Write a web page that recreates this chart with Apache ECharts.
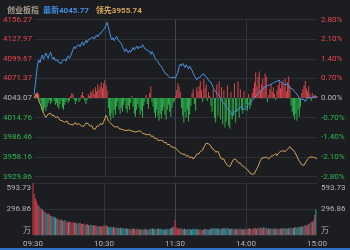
<!DOCTYPE html>
<html lang="zh">
<head>
<meta charset="UTF-8">
<title>创业板指 分时</title>
<script src="https://cdn.jsdelivr.net/npm/echarts@6/dist/echarts.min.js"></script>
<style>
    html, body { margin: 0; padding: 0; background: #1c1d21; }
    #chart { width: 350px; height: 250px; }
</style>
</head>
<body>
<div id="chart"></div>
<script>
// 纵轴刻度文字
var priceTicks = ['3929.86', '3958.16', '3986.46', '4014.76', '4043.07', '4071.37', '4099.67', '4127.97', '4156.27'];
var pctTicks = ['-2.80%', '-2.10%', '-1.40%', '-0.70%', '0.00%', '0.70%', '1.40%', '2.10%', '2.80%'];
var volTicks = ['万', '296.86', '593.73'];
var timeTickIndex = [0, 60, 120, 180, 240];
var timeTickText = ['09:30', '10:30', '11:30', '14:00', '15:00'];

// 最新 (创业板指)
var latest = [
    4048, 4062, 4078, 4092, 4098, 4094, 4101, 4105, 4099, 4103,
    4108, 4104, 4100, 4106, 4109, 4103, 4099, 4102, 4097, 4095,
    4098, 4094, 4096, 4093, 4097, 4095, 4099, 4096, 4101, 4104,
    4100, 4103, 4108, 4113, 4117, 4114, 4118, 4116, 4120, 4117,
    4121, 4124, 4119, 4122, 4126, 4123, 4127, 4125, 4129, 4127,
    4131, 4128, 4130, 4134, 4131, 4135, 4133, 4137, 4140, 4138,
    4144, 4148, 4152, 4145, 4138, 4131, 4127, 4130, 4126, 4129,
    4132, 4128, 4125, 4127, 4122, 4117, 4113, 4110, 4114, 4111,
    4108, 4112, 4109, 4113, 4116, 4112, 4115, 4118, 4114, 4117,
    4119, 4116, 4120, 4117, 4114, 4116, 4112, 4114, 4110, 4106,
    4110, 4107, 4103, 4099, 4101, 4096, 4092, 4094, 4089, 4085,
    4082, 4079, 4081, 4077, 4074, 4076, 4072, 4070, 4073, 4071,
    4072,
    4074, 4080, 4088, 4092, 4089, 4093, 4090, 4087, 4091,
    4088, 4085, 4089, 4086, 4083, 4079, 4075, 4072, 4069, 4072,
    4070, 4073, 4076, 4074, 4078, 4075, 4076, 4072, 4068, 4066,
    4066, 4062, 4058, 4055, 4052, 4054, 4049, 4046, 4043, 4040,
    4037, 4039, 4034, 4031, 4027, 4029, 4025, 4021, 4018, 4022,
    4020, 4024, 4022, 4026, 4029, 4027, 4031, 4028, 4030, 4026,
    4028, 4032, 4035, 4033, 4037, 4040, 4038, 4043, 4046, 4044,
    4049, 4052, 4050, 4054, 4057, 4055, 4059, 4057, 4061, 4059,
    4062, 4060, 4064, 4062, 4066, 4064, 4067, 4065, 4069, 4066,
    4068, 4064, 4066, 4062, 4060, 4063, 4059, 4061, 4057, 4058,
    4055, 4052, 4054, 4049, 4046, 4043, 4045, 4041, 4039, 4041,
    4038, 4040, 4043, 4041, 4044, 4046, 4043, 4045, 4047, 4044,
    4045.77
];

// 领先
var lead = [
    4043, 4046, 4049, 4045, 4039, 4035, 4031, 4025, 4021, 4018,
    4015, 4017, 4020, 4019, 4021, 4018, 4016, 4018, 4015, 4013,
    4016, 4014, 4011, 4013, 4010, 4012, 4008, 4007, 4010, 4006,
    4008, 4005, 4007, 4004, 4006, 4008, 4005, 4003, 4006, 4004,
    4003, 4005, 4002, 4004, 4007, 4005, 4006, 4003, 4001, 4003,
    3999, 4001, 3998, 4002, 4004, 4003, 4006, 4008, 4005, 4009,
    4013, 4018, 4015, 4010, 4012, 4007, 4005, 4003, 4005, 4001,
    4000, 4002, 3999, 4001, 3998, 4000, 3997, 3999, 3996, 3998,
    3997, 3999, 3996, 3998, 3995, 3997, 3994, 3996, 3995, 3997,
    3996, 3994, 3992, 3994, 3991, 3993, 3990, 3989, 3991, 3988,
    3986, 3988, 3985, 3983, 3985, 3982, 3984, 3982, 3980, 3982,
    3979, 3977, 3979, 3976, 3974, 3976, 3973, 3975, 3972, 3970,
    3971,
    3969, 3967, 3965, 3964, 3966, 3962, 3960, 3962, 3959,
    3958, 3960, 3957, 3956, 3958, 3955, 3957, 3959, 3962, 3960,
    3963, 3966, 3964, 3968, 3972, 3975, 3978, 3980, 3977, 3975,
    3974, 3970, 3972, 3968, 3965, 3963, 3966, 3962, 3958, 3955,
    3953, 3955, 3951, 3949, 3946, 3948, 3944, 3947, 3951, 3954,
    3952, 3955, 3953, 3950, 3948, 3949, 3946, 3948, 3944, 3945,
    3941, 3943, 3938, 3935, 3937, 3933, 3931, 3934, 3938, 3941,
    3944, 3949, 3953, 3956, 3954, 3957, 3955, 3958, 3956, 3955,
    3957, 3959, 3957, 3960, 3962, 3963, 3960, 3963, 3965, 3966,
    3964, 3967, 3969, 3966, 3968, 3969, 3971, 3973, 3970, 3972,
    3968, 3965, 3963, 3959, 3955, 3952, 3950, 3947, 3948, 3946,
    3949, 3952, 3955, 3957, 3958, 3960, 3958, 3956, 3957, 3955,
    3955.74
];

// 红绿柱
var power = [
    0, 3, 5, 6, 4, -3, -8, -12, -14, -10,
    -13, -9, -5, -2, -6, -4, 0, -3, -7, -5,
    -9, -11, -6, -3, -10, -12, -7, -4, -2, -5,
    -3, 2, 5, 4, -2, -6, -3, 0, -4, -2,
    3, 6, 2, -3, -6, -2, 4, 2, 7, 5,
    9, 4, 11, 7, 14, 9, 12, 16, 10, 15,
    18, 13, 8, -10, -18, -23, -15, -20, -12, -17,
    -9, -4, -12, -16, -10, -14, -7, -3, -11, -15,
    -8, -12, -5, 2, -9, -16, -19, -12, -6, -10,
    -17, -13, -20, -8, -4, 3, -6, -11, 5, 12,
    -4, -9, -15, -20, -12, -18, -23, -16, -21, -13,
    -9, -17, -22, -12, -7, -14, -19, -10, -5, -3,
    2,
    8, 15, 12, 6, -10, -18, -25, -14, -20,
    -12, -24, -17, -8, 5, 9, -6, -13, 11, 7,
    12, 17, 8, -4, 19, 10, 14, -3, 6, 2,
    -8, -14, 9, -20, -25, 14, -18, 17, -22, 11,
    -27, 8, -30, -24, 13, -28, -31, 6, -22, -18,
    15, -25, -14, 17, -20, 9, -12, -16, 7, -10,
    -6, -13, 4, -11, -8, 5, 10, 16, 26, 12,
    22, 27, 8, 14, 20, 12, 25, 22, -4, 3,
    9, 14, 6, 11, 4, -2, 8, 13, 17, 10,
    15, 18, 12, 20, 7, 16, 22, 13, -8, -14,
    -18, -22, -16, -23, -12, -19, -9, 5, 9, 13,
    17, 10, 7, 12, 4, -3, 5, 2, 3, 1,
    2
];

// 成交量(万)
var volume = [
    594, 470, 420, 390, 350, 330, 310, 300, 290, 275,
    265, 250, 240, 245, 230, 220, 215, 205, 210, 195,
    190, 185, 175, 170, 180, 165, 160, 170, 155, 150,
    148, 155, 145, 140, 150, 138, 142, 135, 130, 140,
    137, 128, 125, 132, 120, 118, 125, 115, 110, 118,
    108, 112, 105, 110, 100, 104, 98, 103, 95, 100,
    110, 105, 115, 98, 92, 88, 95, 85, 90, 82,
    86, 80, 84, 78, 82, 75, 80, 72, 76, 70,
    74, 68, 72, 66, 70, 75, 68, 64, 70, 66,
    62, 68, 64, 60, 66, 70, 63, 58, 65, 72,
    68, 75, 70, 65, 72, 68, 74, 66, 70, 62,
    66, 60, 64, 70, 62, 68, 75, 80, 95, 90,
    170,
    85, 78, 72, 80, 75, 70, 66, 72, 68,
    64, 70, 62, 66, 60, 68, 72, 65, 70, 62,
    66, 60, 64, 58, 62, 68, 72, 66, 60, 64,
    70, 76, 68, 80, 74, 70, 78, 72, 66, 70,
    74, 80, 76, 70, 82, 78, 72, 68, 74, 70,
    66, 72, 68, 64, 70, 74, 68, 62, 66, 70,
    64, 68, 72, 78, 70, 66, 74, 80, 76, 70,
    82, 78, 86, 80, 74, 90, 84, 78, 72, 76,
    70, 74, 68, 72, 78, 70, 66, 72, 68, 74,
    70, 76, 80, 74, 78, 72, 76, 82, 78, 84,
    80, 86, 90, 84, 92, 88, 96, 100, 94, 105,
    110, 118, 105, 125, 135, 150, 145, 170, 230, 290
];

// 分钟类目: 09:30-11:30, 13:01-15:00
var minutes = [];
function pushRange(h0, m0, h1, m1) {
    for (var t = h0 * 60 + m0; t <= h1 * 60 + m1; t++) {
        var h = Math.floor(t / 60), m = t % 60;
        minutes.push((h < 10 ? '0' : '') + h + ':' + (m < 10 ? '0' : '') + m);
    }
}
pushRange(9, 30, 11, 30);
pushRange(13, 1, 15, 0);

var RED = '#e8464d', GREEN = '#2fb64f', GRAY = '#b4b4b4';
var FONT = 'Roboto, "Noto Sans CJK SC", sans-serif';
var gridLine = { show: true, lineStyle: { color: '#2d2f34', width: 1 } };
var vLine = {
    show: true,
    interval: function (i) { return i === 60 || i === 120 || i === 180; },
    lineStyle: { color: ['#34363b', '#45474c', '#34363b'], width: 1 }
};

function tickColor(v, i) {
    return i > 4 ? RED : (i < 4 ? GREEN : GRAY);
}
function volLabel(v, i) {
    if (i === 2) return '{top|' + volTicks[i] + '}';
    if (i === 0) return '{bot|' + volTicks[i] + '}';
    return volTicks[i];
}
var volRich = {
    top: { color: GRAY, fontSize: 8, fontFamily: FONT, padding: [9, 0, 0, 0] },
    bot: { color: GRAY, fontSize: 8, fontFamily: FONT, padding: [0, 0, 9, 0] }
};

var chart = echarts.init(document.getElementById('chart'));

var option = {
    backgroundColor: '#1c1d21',
    animation: false,
    title: {
        left: 2,
        top: 2,
        text: '{a|创业板指}{b|最新' + latest[latest.length - 1].toFixed(2) + '}{c|领先' + lead[lead.length - 1].toFixed(2) + '}',
        textStyle: {
            rich: {
                a: { color: '#ab9f8e', fontSize: 8, fontFamily: FONT },
                b: { color: '#3f8fe6', fontSize: 8, fontFamily: FONT, padding: [0, 0, 0, 4] },
                c: { color: '#d6a55a', fontSize: 8, fontFamily: FONT, padding: [0, 0, 0, 7] }
            }
        }
    },
    grid: [
        { left: 33, right: 33, top: 19.5, height: 157 },
        { left: 33, right: 33, top: 183, height: 52 }
    ],
    xAxis: [
        {
            type: 'category', gridIndex: 0, data: minutes, boundaryGap: false,
            axisLine: { show: false }, axisTick: { show: false }, axisLabel: { show: false },
            splitLine: vLine
        },
        {
            type: 'category', gridIndex: 1, data: minutes, boundaryGap: false,
            axisLine: { show: false }, axisTick: { show: false },
            axisLabel: {
                color: GRAY, fontSize: 8, fontFamily: FONT, margin: 5,
                interval: function (i) { return timeTickIndex.indexOf(i) >= 0; },
                formatter: function (v, i) { return timeTickText[timeTickIndex.indexOf(i)]; }
            },
            splitLine: vLine
        }
    ],
    yAxis: [
        {
            type: 'value', gridIndex: 0, position: 'left',
            min: 3929.86, max: 4156.27, interval: 28.30125,
            axisLine: { show: false }, axisTick: { show: false },
            axisLabel: {
                fontSize: 8, fontFamily: FONT, margin: 2,
                color: tickColor,
                formatter: function (v, i) { return priceTicks[i]; }
            },
            splitLine: gridLine
        },
        {
            type: 'value', gridIndex: 0, position: 'right',
            min: -2.8, max: 2.8, interval: 0.7,
            axisLine: { show: false }, axisTick: { show: false },
            axisLabel: {
                fontSize: 8, fontFamily: FONT, margin: 4,
                color: tickColor,
                formatter: function (v, i) { return pctTicks[i]; }
            },
            splitLine: { show: false }
        },
        {
            type: 'value', gridIndex: 0, show: false, min: -80, max: 80
        },
        {
            type: 'value', gridIndex: 1, position: 'left',
            min: 0, max: 593.73, interval: 296.865,
            axisLine: { show: false }, axisTick: { show: false },
            axisLabel: {
                color: GRAY, fontSize: 8, fontFamily: FONT, margin: 2,
                formatter: volLabel, rich: volRich
            },
            splitLine: gridLine
        },
        {
            type: 'value', gridIndex: 1, position: 'right',
            min: 0, max: 593.73, interval: 296.865,
            axisLine: { show: false }, axisTick: { show: false },
            axisLabel: {
                color: GRAY, fontSize: 8, fontFamily: FONT, margin: 4,
                formatter: volLabel, rich: volRich
            },
            splitLine: { show: false }
        }
    ],
    series: [
        {
            name: '红绿柱', type: 'bar', xAxisIndex: 0, yAxisIndex: 2,
            data: power, barWidth: 1,
            itemStyle: {
                color: function (p) { return p.value >= 0 ? '#d8454d' : '#2db34c'; }
            }
        },
        {
            name: '领先', type: 'line', xAxisIndex: 0, yAxisIndex: 0,
            data: lead, showSymbol: false,
            lineStyle: { color: '#d6a55a', width: 1 }
        },
        {
            name: '最新', type: 'line', xAxisIndex: 0, yAxisIndex: 0,
            data: latest, showSymbol: false,
            lineStyle: { color: '#4a92e2', width: 1 }
        },
        {
            name: '成交量', type: 'bar', xAxisIndex: 1, yAxisIndex: 3,
            data: volume, barWidth: 1,
            itemStyle: {
                color: function (p) {
                    var i = p.dataIndex;
                    return (i === 0 || latest[i] >= latest[i - 1]) ? '#d23a44' : '#2aa2a8';
                }
            }
        }
    ],
    graphic: [
        { type: 'rect', left: 0, bottom: 0, shape: { width: 350, height: 2 }, style: { fill: '#2d72c8' } }
    ]
};

chart.setOption(option);
</script>
</body>
</html>
